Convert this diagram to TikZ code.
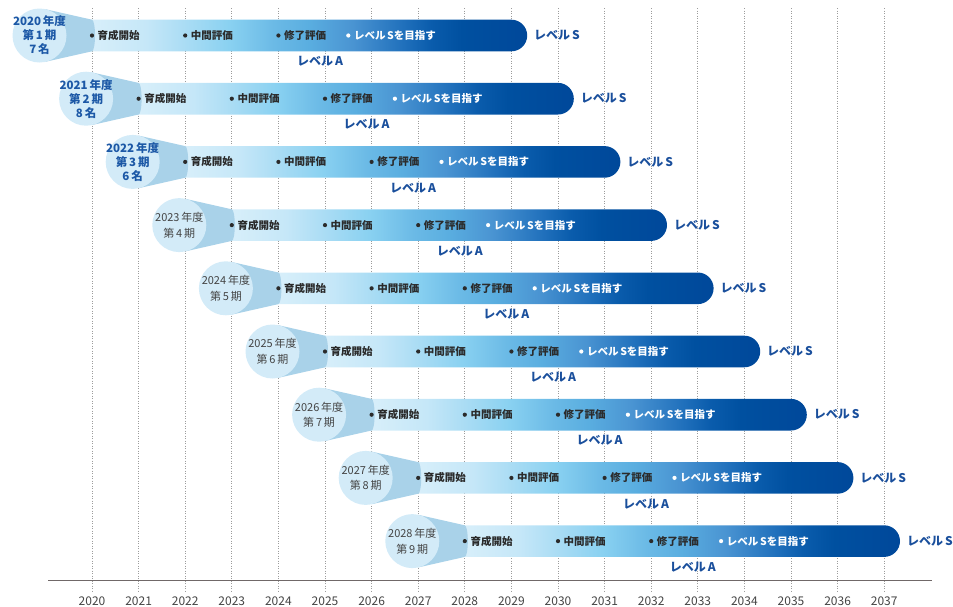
\documentclass[tikz,border=0pt]{standalone}
\usepackage{fontspec}
\setmainfont{Noto Sans CJK JP}
\definecolor{b0}{HTML}{D8EFFA}
\definecolor{b1}{HTML}{C5E7F8}
\definecolor{b2}{HTML}{A9DCF4}
\definecolor{b3}{HTML}{89D1F1}
\definecolor{b4}{HTML}{6BBAE6}
\definecolor{b5}{HTML}{5AAEE0}
\definecolor{b6}{HTML}{4A94D2}
\definecolor{b7}{HTML}{1F6FBB}
\definecolor{b8}{HTML}{0A5CAC}
\definecolor{b9}{HTML}{0050A0}
\definecolor{b10}{HTML}{00489A}
\definecolor{circcol}{HTML}{D3EBF8}
\definecolor{conecol}{HTML}{A9D2E9}
\definecolor{lvlblue}{HTML}{1A4F9C}
\definecolor{cblue}{HTML}{1C58A6}
\definecolor{gridcol}{HTML}{9C9C9C}
\definecolor{axiscol}{HTML}{706868}
\definecolor{txtdark}{HTML}{2B2B2B}
\definecolor{txtgray}{HTML}{444444}
\pgfdeclarehorizontalshading{barshade}{100bp}{color(0bp)=(b0); color(25bp)=(b0); color(31.5bp)=(b1); color(36bp)=(b2); color(41bp)=(b3); color(46bp)=(b4); color(50bp)=(b5); color(55bp)=(b6); color(61bp)=(b7); color(64bp)=(b8); color(67.5bp)=(b9); color(75bp)=(b10); color(100bp)=(b10)}
\begin{document}
\begin{tikzpicture}[x=1pt,y=-1pt,
  gridline/.style={draw=gridcol, line width=0.7pt, dash pattern=on 1pt off 1.5pt},
  axisline/.style={draw=axiscol, line width=1.4pt},
  yearlbl/.style={inner sep=0pt, text=txtgray, font=\fontsize{12}{14}\selectfont},
  circ/.style={circle, fill=circcol, minimum size=54pt, inner sep=0pt},
  ctA/.style={inner sep=0pt, align=center, text=cblue, font=\bfseries\fontsize{11.5}{14}\selectfont},
  ctB/.style={inner sep=0pt, align=center, text=txtgray, font=\fontsize{11}{15.7}\selectfont},
  ms/.style={inner sep=0pt, anchor=west, text=txtdark, font=\bfseries\fontsize{10.5}{12}\selectfont},
  msw/.style={ms, text=white},
  lvl/.style={inner sep=0pt, text=lvlblue, font=\bfseries\fontsize{12}{14}\selectfont},
  bdot/.style={fill=txtdark},
  wdot/.style={fill=white}]
\useasboundingbox (0,0) rectangle (953,606);
% grid and axis
\foreach \k in {0,...,17} {
  \pgfmathsetmacro\xx{92+46.6*\k}
  \pgfmathtruncatemacro\yr{2020+\k}
  \draw[gridline] (\xx,8) -- (\xx,592);
  \node[yearlbl] (yr\k) at (\xx,601) {\yr};
}
\draw[axisline] (48,580.7) -- (932,580.7);
% rows
\foreach \i/\yr/\n/\p in {0/2020/1/7,1/2021/2/8,2/2022/3/6,3/2023/4/0,4/2024/5/0,5/2025/6/0,6/2026/7/0,7/2027/8/0,8/2028/9/0} {
  \pgfmathsetmacro\xo{92+46.6*\i}
  \pgfmathsetmacro\yo{35.5+63.2*\i}
  \pgfmathsetmacro\cx{\xo-52.5}
  \pgfmathsetmacro\xe{\xo+419.4}
  \shade[shading=barshade] (\xo-2,\yo-15.8) -- (\xe,\yo-15.8) arc[start angle=90,end angle=-90,radius=15.8pt] -- (\xo-2,\yo+15.8) -- cycle;
  \fill[conecol] (\cx+6,\yo-26.3) -- (\xo,\yo-15.8) arc[start angle=90,end angle=-90,x radius=3pt,y radius=15.8pt] -- (\cx+6,\yo+26.3) -- cycle;
  \node[circ] (c\i) at (\cx,\yo) {};
  \ifnum\i<3
    \node[ctA] (t\i) at (\cx,\yo) {\yr\,年度\\第\,\n\,期\\\p\,名};
  \else
    \node[ctB] (t\i) at (\cx,\yo) {\yr\,年度\\第\,\n\,期};
  \fi
  \fill[bdot] (\xo,\yo) circle[radius=2.1pt];
  \node[ms] (ma\i) at (\xo+5.5,\yo) {育成開始};
  \fill[bdot] (\xo+93.2,\yo) circle[radius=2.1pt];
  \node[ms] (mb\i) at (\xo+98.7,\yo) {中間評価};
  \fill[bdot] (\xo+186.4,\yo) circle[radius=2.1pt];
  \node[ms] (mc\i) at (\xo+191.9,\yo) {修了評価};
  \fill[wdot] (\xo+256.3,\yo) circle[radius=2.1pt];
  \node[msw] (md\i) at (\xo+261.8,\yo) {レベル\,Sを目指す};
  \node[lvl] (la\i) at (\xo+228,\yo+26) {レベル\,A};
  \node[lvl,anchor=west] (ls\i) at (\xo+442,\yo) {レベル\,S};
}
\end{tikzpicture}
\end{document}
